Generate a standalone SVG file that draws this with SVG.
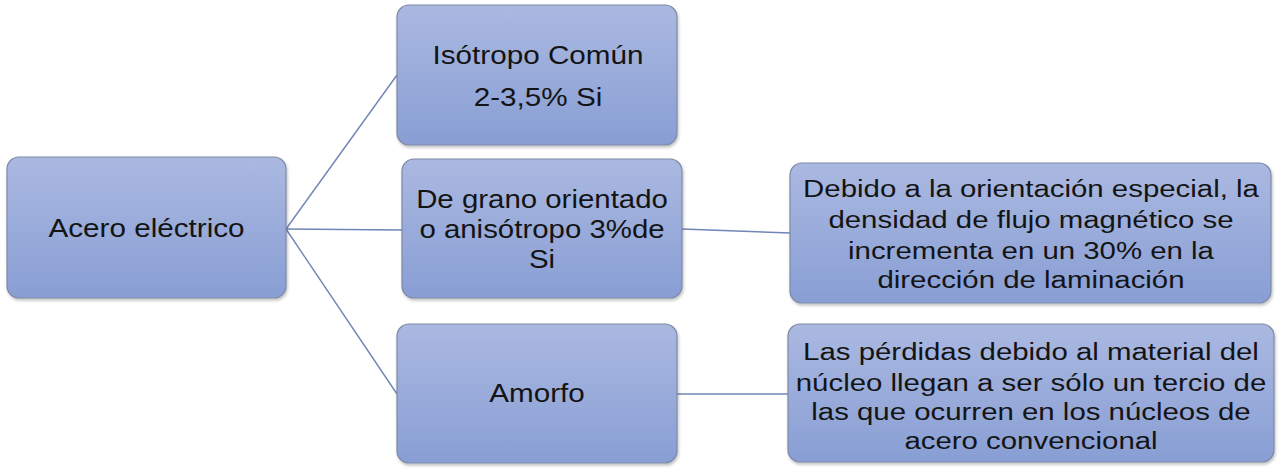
<svg xmlns="http://www.w3.org/2000/svg" width="1281" height="474" viewBox="0 0 1281 474">
<defs>
<linearGradient id="g" x1="0" y1="0" x2="0" y2="1">
<stop offset="0" stop-color="#abb9e1"/>
<stop offset="1" stop-color="#889ed4"/>
</linearGradient>
<filter id="sh" x="-5%" y="-5%" width="110%" height="115%">
<feDropShadow dx="1" dy="2" stdDeviation="1.5" flood-color="#000" flood-opacity="0.25"/>
</filter>
</defs>
<style>
.box{fill:url(#g);stroke:#7d89a6;stroke-width:1.2;filter:url(#sh)}
.t{font-family:"Liberation Sans",Arial,sans-serif;fill:#141414;text-anchor:middle}
.big{font-size:26.5px}
.sm{font-size:24.5px}
.c{stroke:#6f85b5;stroke-width:1.4;fill:none}
</style>
<rect width="1281" height="474" fill="#fff"/>
<g id="connectors">
<line class="c" x1="286" y1="229" x2="397" y2="75"/>
<line class="c" x1="286" y1="229" x2="402" y2="230"/>
<line class="c" x1="286" y1="229" x2="397" y2="394"/>
<line class="c" x1="682" y1="229" x2="790" y2="233"/>
<line class="c" x1="677" y1="394" x2="788" y2="394"/>
</g>
<g id="acero">
<rect class="box" x="7" y="157" width="279" height="141" rx="12"/>
<text class="t big" transform="translate(146.5,237) scale(1.12,1)">Acero eléctrico</text>
</g>
<g id="isotropo">
<rect class="box" x="397" y="5" width="280" height="140" rx="12"/>
<text class="t big" transform="translate(538,64) scale(1.12,1)">Isótropo Común</text>
<text class="t big" transform="translate(538,106) scale(1.12,1)">2-3,5% Si</text>
</g>
<g id="grano">
<rect class="box" x="402" y="159" width="280" height="139" rx="12"/>
<text class="t big" transform="translate(542,208) scale(1.11,1)">De grano orientado</text>
<text class="t big" transform="translate(542,238) scale(1.11,1)">o anisótropo 3%de</text>
<text class="t big" transform="translate(542,268) scale(1.11,1)">Si</text>
</g>
<g id="amorfo">
<rect class="box" x="397" y="324" width="280" height="139" rx="12"/>
<text class="t big" transform="translate(537,402) scale(1.12,1)">Amorfo</text>
</g>
<g id="debido">
<rect class="box" x="790" y="163" width="481" height="140" rx="12"/>
<text class="t sm" transform="translate(1031,196.5) scale(1.2,1)">Debido a la orientación especial, la</text>
<text class="t sm" transform="translate(1031,228) scale(1.2,1)">densidad de flujo magnético se</text>
<text class="t sm" transform="translate(1031,259) scale(1.2,1)">incrementa en un 30% en la</text>
<text class="t sm" transform="translate(1031,288) scale(1.2,1)">dirección de laminación</text>
</g>
<g id="perdidas">
<rect class="box" x="788" y="324" width="486" height="138" rx="12"/>
<text class="t sm" transform="translate(1031,360) scale(1.2,1)">Las pérdidas debido al material del</text>
<text class="t sm" transform="translate(1031,391) scale(1.2,1)">núcleo llegan a ser sólo un tercio de</text>
<text class="t sm" transform="translate(1031,420) scale(1.2,1)">las que ocurren en los núcleos de</text>
<text class="t sm" transform="translate(1031,449) scale(1.2,1)">acero convencional</text>
</g>
</svg>
